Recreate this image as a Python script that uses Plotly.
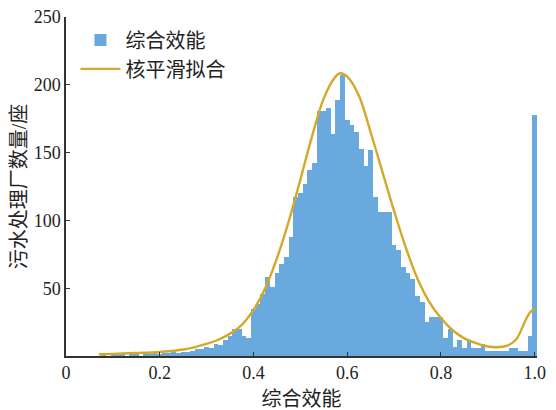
import numpy as np
import plotly.graph_objects as go

# histogram of 综合效能, bins of 0.01 starting at 0.08
bin_start = 0.08
bin_width = 0.01
counts = [1, 0, 1, 2, 1, 0, 1, 1, 0, 1, 1, 2,           # 0.08 - 0.19
          1, 2, 2, 3, 2, 3, 3, 4, 5, 5,                 # 0.20 - 0.29
          7, 6, 9, 8, 12, 15, 20, 20, 15, 13,           # 0.30 - 0.39
          35, 38, 46, 58, 51, 61, 68, 73, 88, 117,      # 0.40 - 0.49
          120, 127, 137, 142, 181, 181, 183, 164, 189, 207,  # 0.50 - 0.59
          174, 170, 165, 153, 140, 152, 117, 106, 106, 106,  # 0.60 - 0.69
          82, 78, 66, 61, 57, 44, 40, 25, 29, 29,       # 0.70 - 0.79
          29, 13, 20, 7, 12, 6, 12, 6, 6, 9,            # 0.80 - 0.89
          4, 4, 4, 4, 4, 6, 6, 4, 4, 15,                # 0.90 - 0.99
          178]                                          # 1.00

# kernel smoothing curve
kde_x = [0.07, 0.10, 0.15, 0.20, 0.25, 0.30, 0.325, 0.35, 0.375, 0.40,
         0.425, 0.45, 0.475, 0.50, 0.525, 0.55, 0.575, 0.585, 0.60, 0.625,
         0.65, 0.675, 0.70, 0.725, 0.75, 0.775, 0.80, 0.825, 0.85, 0.875,
         0.90, 0.92, 0.94, 0.96, 0.98, 0.99, 1.00]
kde_y = [1.3, 1.6, 2.2, 3, 4.8, 9, 12, 16.5, 23, 34,
         50, 72, 99, 130, 162, 190, 206, 208.5, 206, 192,
         165, 136, 107, 80, 57, 40, 28, 19, 13, 9.5,
         7, 6.5, 7.5, 12, 26, 32, 35]

x_ticks = [0, 0.2, 0.4, 0.6, 0.8, 1.0]
x_ticktext = ["0", "0.2", "0.4", "0.6", "0.8", "1.0"]
y_ticks = [50, 100, 150, 200, 250]

centers = bin_start + bin_width * np.arange(len(counts))

serif = "Liberation Serif, Noto Sans CJK SC"

fig = go.Figure()
fig.add_trace(go.Bar(
    x=centers, y=counts, width=bin_width,
    marker=dict(color="#6aa9dd", line=dict(width=0)),
    name="综合效能"))
fig.add_trace(go.Scatter(
    x=kde_x, y=kde_y, mode="lines", line_shape="spline",
    line=dict(color="#d4a82a", width=2.4),
    name="核平滑拟合"))

# page body has an 8px margin, so the figure is a bit smaller than the window
fig.update_layout(
    width=548, height=402,
    margin=dict(l=58, r=19, t=9, b=54),
    plot_bgcolor="white", paper_bgcolor="white",
    bargap=0,
    font=dict(family=serif, size=18, color="#222"),
    legend=dict(x=0.02, y=0.99, xanchor="left", yanchor="top",
                bgcolor="rgba(0,0,0,0)",
                font=dict(family="Noto Sans CJK SC", size=20, color="#222"),
                itemwidth=40, tracegroupgap=0),
)
fig.update_xaxes(
    range=[0, 1.005], tickvals=x_ticks, ticktext=x_ticktext,
    ticks="inside", ticklen=4, tickcolor="#333",
    showline=True, linecolor="#333", linewidth=1.5,
    showgrid=False, zeroline=False, automargin=False,
    ticklabeloverflow="allow",
    title=dict(text="综合效能", font=dict(size=20)),
)
fig.update_yaxes(
    range=[0, 250], tickvals=y_ticks,
    ticks="inside", ticklen=4, tickcolor="#333",
    showline=True, linecolor="#333", linewidth=1.5,
    showgrid=False, zeroline=False, automargin=False,
    ticklabeloverflow="allow",
    title=dict(text="污水处理厂数量/座", font=dict(size=20)),
)

fig.write_html("out.html")
